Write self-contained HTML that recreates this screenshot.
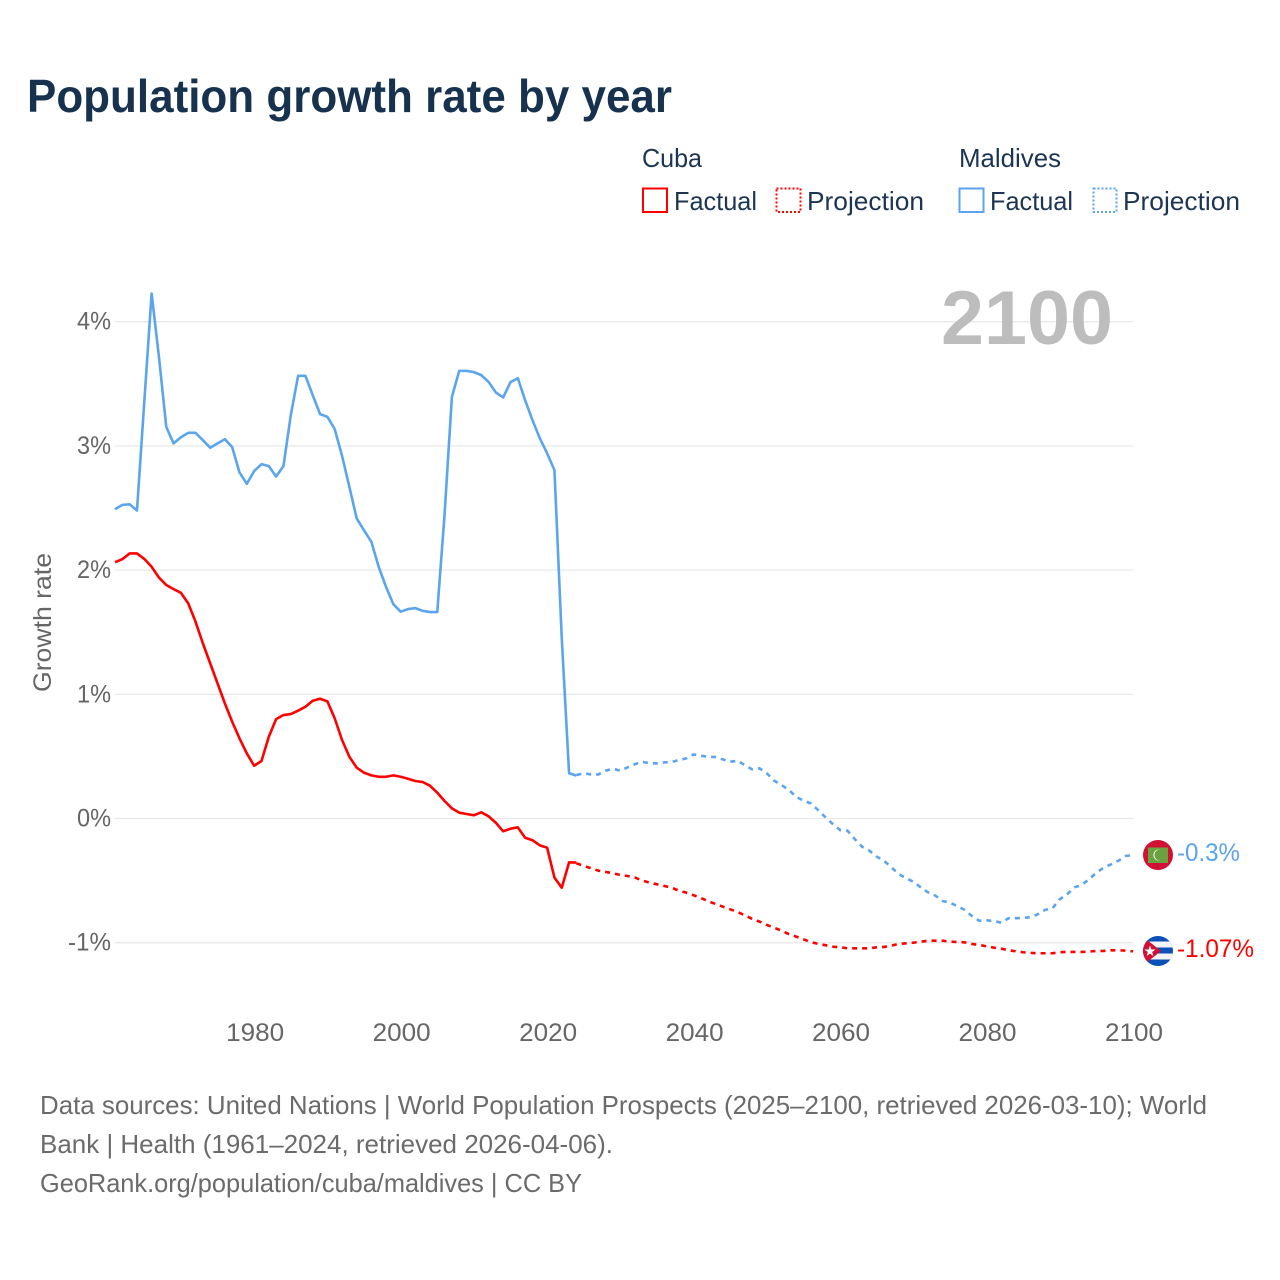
<!DOCTYPE html>
<html lang="en">
<head>
<meta charset="utf-8">
<title>Population growth rate by year</title>
<style>
html,body{margin:0;padding:0;background:#fff}
svg{display:block}
text{font-family:"Liberation Sans",sans-serif}
</style>
</head>
<body>
<svg id="chart" xmlns="http://www.w3.org/2000/svg" width="1280" height="1280" viewBox="0 0 1280 1280">
<rect width="1280" height="1280" fill="#fff"/>
<text x="27" y="112" font-size="46" font-weight="700" fill="#17324f" textLength="645" lengthAdjust="spacingAndGlyphs">Population growth rate by year</text>

<g font-size="26" fill="#1c3553">
<text x="642" y="167" textLength="60" lengthAdjust="spacingAndGlyphs">Cuba</text>
<text x="959" y="167" textLength="102" lengthAdjust="spacingAndGlyphs">Maldives</text>
<rect x="643" y="188.5" width="24" height="23.5" fill="none" stroke="#ff0000" stroke-width="2"/>
<text x="674" y="210" textLength="83" lengthAdjust="spacingAndGlyphs">Factual</text>
<rect x="776.5" y="188.5" width="24" height="23.5" fill="none" stroke="#ff0000" stroke-width="2" stroke-dasharray="2 2"/>
<text x="807" y="210" textLength="117" lengthAdjust="spacingAndGlyphs">Projection</text>
<rect x="959.5" y="188.5" width="24" height="23.5" fill="none" stroke="#5ba4ee" stroke-width="2"/>
<text x="990" y="210" textLength="83" lengthAdjust="spacingAndGlyphs">Factual</text>
<rect x="1093.5" y="188.5" width="23" height="23.5" fill="none" stroke="#5ba4ee" stroke-width="2" stroke-dasharray="2 2"/>
<text x="1123" y="210" textLength="117" lengthAdjust="spacingAndGlyphs">Projection</text>
</g>

<g id="grid"></g>
<g id="yticks"></g>
<g id="xticks"></g>
<text transform="translate(51,692) rotate(-90)" font-size="25" fill="#666" textLength="139" lengthAdjust="spacingAndGlyphs">Growth rate</text>
<text x="1113" y="344" text-anchor="end" font-size="76" font-weight="700" fill="#bdbdbd" textLength="172" lengthAdjust="spacingAndGlyphs">2100</text>
<g id="series"></g>

<g>
<circle cx="1158" cy="855" r="15" fill="#d21034"/>
<rect x="1148" y="847.5" width="20" height="15.5" fill="#6aa23f"/>
<path d="M1160 849.5a5.6 5.6 0 1 0 0 11a4.6 4.6 0 0 1 0-11z" fill="#f2f2f2"/>
</g>
<g>
<clipPath id="cuba-clip"><circle cx="1158" cy="951" r="15"/></clipPath>
<g clip-path="url(#cuba-clip)">
<rect x="1143" y="936" width="30" height="30" fill="#0a50b8"/>
<rect x="1143" y="941.5" width="30" height="6" fill="#f4f4f4"/>
<rect x="1143" y="953.5" width="30" height="6" fill="#f4f4f4"/>
<polygon points="1141,935 1161,951 1141,967" fill="#d21034"/>
<polygon points="1150,945.5 1151.4,949.5 1155.5,949.5 1152.2,952 1153.4,956 1150,953.6 1146.6,956 1147.8,952 1144.5,949.5 1148.6,949.5" fill="#fff"/>
</g>
</g>
<text x="1177" y="861" font-size="25" fill="#5ba4ee" textLength="63" lengthAdjust="spacingAndGlyphs">-0.3%</text>
<text x="1177" y="957" font-size="25" fill="#ff0000" textLength="77" lengthAdjust="spacingAndGlyphs">-1.07%</text>

<g font-size="26" fill="#6b6b6b">
<text x="40" y="1114" textLength="1167" lengthAdjust="spacingAndGlyphs">Data sources: United Nations | World Population Prospects (2025–2100, retrieved 2026-03-10); World</text>
<text x="40" y="1153" textLength="573" lengthAdjust="spacingAndGlyphs">Bank | Health (1961–2024, retrieved 2026-04-06).</text>
<text x="40" y="1192" textLength="542" lengthAdjust="spacingAndGlyphs">GeoRank.org/population/cuba/maldives | CC BY</text>
</g>
</svg>
<script>
const yTickValues = [4, 3, 2, 1, 0, -1];
const yTickLabels = ["4%", "3%", "2%", "1%", "0%", "-1%"];
const xTickValues = [1980, 2000, 2020, 2040, 2060, 2080, 2100];
const xTickLabels = ["1980", "2000", "2020", "2040", "2060", "2080", "2100"];
const factualStartYear = 1961;
const projectionStartYear = 2024;
const cubaFactual = [2.064,2.088,2.134,2.134,2.09,2.027,1.94,1.88,1.847,1.817,1.732,1.584,1.41,1.249,1.088,0.927,0.779,0.645,0.524,0.425,0.463,0.658,0.80,0.833,0.841,0.868,0.90,0.948,0.964,0.943,0.806,0.632,0.497,0.409,0.369,0.347,0.336,0.336,0.347,0.336,0.32,0.302,0.294,0.264,0.208,0.141,0.082,0.047,0.036,0.026,0.05,0.018,-0.034,-0.103,-0.082,-0.071,-0.155,-0.175,-0.216,-0.235,-0.476,-0.557,-0.353,-0.355];
const cubaProjection = [-0.361,-0.382,-0.401,-0.42,-0.43,-0.441,-0.455,-0.463,-0.476,-0.50,-0.517,-0.53,-0.543,-0.557,-0.581,-0.597,-0.618,-0.64,-0.667,-0.688,-0.71,-0.731,-0.753,-0.779,-0.809,-0.83,-0.857,-0.879,-0.903,-0.93,-0.951,-0.973,-0.994,-1.01,-1.02,-1.032,-1.037,-1.045,-1.045,-1.045,-1.045,-1.037,-1.034,-1.024,-1.01,-1.005,-1.0,-0.992,-0.984,-0.984,-0.984,-0.992,-0.994,-0.997,-1.01,-1.018,-1.029,-1.04,-1.048,-1.061,-1.069,-1.077,-1.082,-1.085,-1.085,-1.085,-1.077,-1.074,-1.074,-1.074,-1.072,-1.066,-1.066,-1.061,-1.061,-1.064,-1.07];
const maldivesFactual = [2.49,2.525,2.53,2.48,3.355,4.227,3.717,3.153,3.02,3.07,3.105,3.105,3.046,2.985,3.02,3.054,2.99,2.786,2.695,2.797,2.853,2.837,2.754,2.837,3.247,3.564,3.564,3.408,3.256,3.234,3.135,2.92,2.67,2.416,2.32,2.228,2.027,1.866,1.726,1.665,1.686,1.694,1.672,1.662,1.662,2.45,3.395,3.604,3.604,3.594,3.57,3.516,3.43,3.39,3.513,3.545,3.368,3.207,3.062,2.94,2.805,1.45,0.364,0.345];
const maldivesProjection = [0.35,0.364,0.355,0.355,0.385,0.40,0.385,0.412,0.438,0.457,0.444,0.444,0.452,0.455,0.471,0.484,0.516,0.505,0.497,0.495,0.476,0.457,0.465,0.43,0.396,0.404,0.364,0.304,0.27,0.23,0.175,0.143,0.122,0.068,0.01,-0.044,-0.093,-0.098,-0.165,-0.227,-0.259,-0.307,-0.34,-0.393,-0.447,-0.481,-0.509,-0.554,-0.594,-0.621,-0.664,-0.678,-0.704,-0.736,-0.785,-0.823,-0.82,-0.825,-0.839,-0.803,-0.803,-0.80,-0.795,-0.771,-0.736,-0.723,-0.65,-0.61,-0.554,-0.535,-0.489,-0.436,-0.396,-0.369,-0.34,-0.302,-0.294];

const SVG_NS = "http://www.w3.org/2000/svg";
const xScale = function (year) { return 115 + (year - 1961) * 7.324; };
const yScale = function (value) { return 818.5 - value * 124.2; };

const gridGroup = document.getElementById("grid");
const yTickGroup = document.getElementById("yticks");
const xTickGroup = document.getElementById("xticks");
const seriesGroup = document.getElementById("series");

yTickValues.forEach(function (value, i) {
  const line = document.createElementNS(SVG_NS, "line");
  
  
  line.setAttribute("x1", 115);
  line.setAttribute("x2", 1133);
  line.setAttribute("y1", yScale(value));
  line.setAttribute("y2", yScale(value));
  line.setAttribute("stroke", "#e9e9e9");
  line.setAttribute("stroke-width", 1.3);
  gridGroup.appendChild(line);

  const label = document.createElementNS(SVG_NS, "text");
  
  
  label.setAttribute("x", 111);
  label.setAttribute("y", yScale(value) + 8);
  label.setAttribute("text-anchor", "end");
  label.setAttribute("font-size", 25);
  label.setAttribute("fill", "#666");
  label.setAttribute("textLength", yTickLabels[i].length === 3 ? 43 : 34);
  label.setAttribute("lengthAdjust", "spacingAndGlyphs");
  label.textContent = yTickLabels[i];
  yTickGroup.appendChild(label);
});

xTickValues.forEach(function (year, i) {
  const label = document.createElementNS(SVG_NS, "text");
  
  
  label.setAttribute("x", xScale(year) + 1);
  label.setAttribute("y", 1041);
  label.setAttribute("text-anchor", "middle");
  label.setAttribute("font-size", 25);
  label.setAttribute("fill", "#666");
  label.setAttribute("textLength", 58);
  label.setAttribute("lengthAdjust", "spacingAndGlyphs");
  label.textContent = xTickLabels[i];
  xTickGroup.appendChild(label);
});

function pointsFor(values, startYear) {
  return values.map(function (value, i) {
    return xScale(startYear + i).toFixed(2) + "," + yScale(value).toFixed(2);
  }).join(" ");
}

function drawSeries(name, values, startYear, color, dash) {
  const line = document.createElementNS(SVG_NS, "polyline");
  
  
  line.setAttribute("points", pointsFor(values, startYear));
  line.setAttribute("fill", "none");
  line.setAttribute("stroke", color);
  line.setAttribute("stroke-width", 2.6);
  line.setAttribute("stroke-linejoin", "round");
  if (dash) line.setAttribute("stroke-dasharray", dash);
  seriesGroup.appendChild(line);
}

drawSeries("maldives-factual-line", maldivesFactual, factualStartYear, "#5ba4ee", null);
drawSeries("maldives-projection-line", maldivesProjection, projectionStartYear, "#5ba4ee", "5 5");
drawSeries("cuba-factual-line", cubaFactual, factualStartYear, "#ff0000", null);
drawSeries("cuba-projection-line", cubaProjection, projectionStartYear, "#ff0000", "5 5");
</script>
</body>
</html>
